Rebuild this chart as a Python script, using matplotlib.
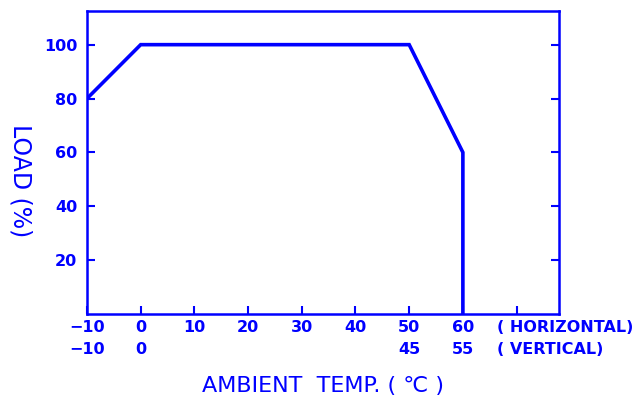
import matplotlib

matplotlib.use("Agg")
import matplotlib.pyplot as plt  # noqa: E402
from matplotlib.transforms import blended_transform_factory  # noqa: E402

BLUE = "#0000ff"

# derating curve (horizontal mounting)
temp = [-10, 0, 50, 60, 60]
load = [80, 100, 100, 60, 0]

x_ticks = [-10, 0, 10, 20, 30, 40, 50, 60, 70]
y_ticks = [20, 40, 60, 80, 100]
horiz_pos = [-10, 0, 10, 20, 30, 40, 50, 60]
horiz_labels = ["\u221210", "0", "10", "20", "30", "40", "50", "60"]
vert_pos = [-10, 0, 50, 60]
vert_labels = ["\u221210", "0", "45", "55"]

plt.rcParams["font.family"] = ["DejaVu Sans"]
font = dict(color=BLUE, fontsize=11.5, fontweight="bold")

fig = plt.figure(figsize=(6.36, 4.01), dpi=100)
ax = fig.add_axes([87 / 636, 1 - 314 / 401, (559 - 87) / 636, (314 - 11) / 401])

ax.plot(temp, load, color=BLUE, linewidth=2.6, solid_joinstyle="miter")
ax.set_xlim(-10, 77.9)
ax.set_ylim(0, 112.5)

for side in ax.spines.values():
    side.set_color(BLUE)
    side.set_linewidth(1.8)

ax.set_xticks(x_ticks)
ax.set_yticks(y_ticks)
ax.tick_params(axis="both", direction="in", color=BLUE, width=1.5, length=6,
               right=True, labelbottom=False)
ax.set_yticklabels([str(v) for v in y_ticks], **font)
ax.tick_params(axis="y", pad=7)

trans = blended_transform_factory(ax.transData, fig.transFigure)
for x, lab in zip(horiz_pos, horiz_labels):
    ax.text(x, 1 - 327 / 401, lab, transform=trans, ha="center", va="center", **font)
for x, lab in zip(vert_pos, vert_labels):
    ax.text(x, 1 - 349 / 401, lab, transform=trans, ha="center", va="center", **font)
fig.text(497 / 636, 1 - 327 / 401, "( HORIZONTAL)", ha="left", va="center", **font)
fig.text(497 / 636, 1 - 349 / 401, "( VERTICAL)", ha="left", va="center", **font)

fig.text(323 / 636, 1 - 386 / 401, "AMBIENT  TEMP. ( \u2103 )", ha="center", va="center",
         color=BLUE, fontsize=16)
fig.text(20 / 636, 1 - 181 / 401, "LOAD (%)", rotation=-90, ha="center", va="center",
         color=BLUE, fontsize=17)

fig.savefig("out.png", dpi=100)
plt.close(fig)
